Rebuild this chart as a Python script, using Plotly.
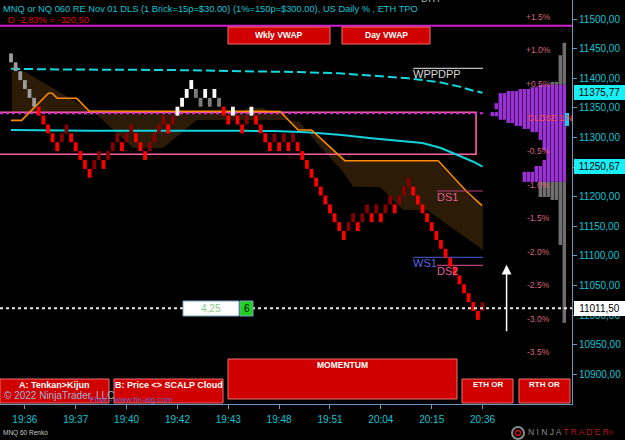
import plotly.graph_objects as go

FONT = "Liberation Sans, Arial, sans-serif"

# ---------------- data ----------------
brick_size = 15
brick_high = [11442, 11427, 11412, 11397, 11382, 11367, 11352, 11337, 11322, 11307, 11292,
              11307, 11322, 11307, 11292, 11277, 11262, 11247, 11262, 11277, 11262,
              11277, 11292, 11307, 11292, 11307, 11322, 11307, 11292, 11277, 11292,
              11307, 11322, 11337, 11322, 11337, 11352, 11367, 11382, 11397, 11382,
              11367, 11382, 11367, 11382, 11367, 11352, 11337, 11352, 11337, 11322,
              11337, 11352, 11337, 11322, 11307, 11292, 11307, 11292, 11307, 11292,
              11307, 11292, 11277, 11262, 11247, 11232, 11217, 11202, 11187, 11172,
              11157, 11142, 11157, 11172, 11157, 11172, 11187, 11172, 11187, 11172,
              11187, 11202, 11187, 11202, 11217, 11232, 11217, 11202, 11187, 11172,
              11157, 11142, 11127, 11112, 11097, 11082, 11067, 11052, 11037, 11022,
              11007, 11022]
brick_kind = list("GGGGGG" "RRRRR" "DD" "RRRRR" "DD" "R" "DDD" "R" "DD" "RRR" "DDDD" "R" "D"
                  "WWWW" "gg" "W" "g" "W" "g" "RR" "W" "RR" "D" "W" "RRRR" "D" "R" "D" "R" "D"
                  "RRRRRRRRRRR" "DD" "R" "DD" "R" "D" "R" "DD" "R" "DDD" "RRRRRRRRRRRRRRR" "D")

tick_idx = [3, 14, 25, 36, 47, 58, 69, 80, 91, 102]
tick_text = ["19:36", "19:37", "19:40", "19:42", "19:43", "19:48", "19:51", "20:04", "20:15", "20:36"]

price_ticks = [11500, 11450, 11400, 11350, 11300, 11250, 11200, 11150, 11100, 11050, 11000, 10950, 10900]
price_tick_text = ["11500,00", "11450,00", "11400,00", "11350,00", "11300,00", "11250,00", "11200,00",
                   "11150,00", "11100,00", "11050,00", "11000,00", "10950,00", "10900,00"]

wvwap_idx = [0, 10, 35, 52, 62, 71, 78, 86, 93, 97, 100, 102]
wvwap = [11416, 11415, 11414, 11412.5, 11410.5, 11408.5, 11404.5, 11400, 11393, 11386, 11379, 11375.77]

dvwap_idx = [0, 17, 17.3, 50, 57, 64, 71, 78, 82, 86, 89, 93, 96.5, 100, 102]
dvwap = [11312.7, 11312.7, 11311.5, 11311.3, 11310.8, 11308.8, 11304.5, 11298.6, 11295.8, 11293,
         11290.7, 11282.3, 11270.4, 11259.1, 11250.67]

kijun_idx = [0, 2.3, 8.1, 8.9, 10, 14.2, 16.9, 58.2, 62.1, 65, 72.2, 92.4, 98.6, 101.9]
kijun = [11329, 11329, 11374.7, 11374.7, 11366.2, 11366.2, 11344.8, 11344, 11312.7, 11312.7,
         11260.8, 11260.8, 11208.4, 11184.8]

cloud_a_idx = [0.2, 3.0, 17.1, 50.6, 51.0, 54.5, 56.0, 58.2, 62.1, 65.0, 72.2, 92.1, 99.3, 102.1]
cloud_a = [11411, 11411, 11346.5, 11343, 11350, 11350, 11343, 11342, 11314, 11314, 11260.3, 11260.3,
           11200, 11184.3]
cloud_b_idx = [0.2, 18.6, 26.4, 32.9, 37.0, 40.2, 59.3, 62.5, 65.0, 67.5, 71.5, 74.0, 79.8, 84.8, 90.0, 102.1]
cloud_b = [11341.4, 11338, 11282.3, 11282.3, 11309.3, 11329.6, 11329.6, 11326.2, 11301.4, 11279.1,
           11245.3, 11216.9, 11216.4, 11177.5, 11177.5, 11110]

zone_top, zone_bottom, zone_end = 11342.7, 11271.6, 100.6
session_line = 11488.9
or_line, or_line_end = 11341.0, 102.5
last_price = 11011.5
prior_close = 11332.0

pct_levels = [1.5, 1.0, 0.5, 0.0, -0.5, -1.0, -1.5, -2.0, -2.5, -3.0, -3.5]
pct_text = ["+1.5%", "+1.0%", "+0.5%", "CLOSE 1 N", "-0.5%", "-1.0%", "-1.5%", "-2.0%", "-2.5%", "-3.0%", "-3.5%"]

pivot_names = ["WPPDPP", "DS1", "WS1", "DS2"]
pivot_price = [11416.9, 11209.6, 11097.6, 11084.1]
pivot_start = [87.0, 92.1, 87.0, 92.1]
pivot_end = [102.1, 102.1, 102.1, 102.1]

tpo_edges = [11460, 11439, 11394, 11389, 11385, 11382, 11378.5, 11375, 11368, 11358, 11348, 11343,
             11336, 11330, 11324.5, 11319.5, 11314.5, 11309, 11296, 11279, 11262, 11252, 11242,
             11225, 11199.5, 11194.5, 11118.5, 10987]
tpo_count = [1, 2, 4, 7, 9, 12, 15, 17, 17, 18, 17, 19, 17, 15, 13, 11, 9, 7, 6, 5, 6, 8, 11, 7, 4, 2, 1]
va_high, va_low = 11389, 11225

axis_labels = [(11375.77, "11375,77", "#19f0f5"), (11250.67, "11250,67", "#19f0f5"), (11011.5, "11011,50", "#ffffff")]

# ---------------- layout geometry ----------------
PRW, PRH = 572, 404
XMIN, XMAX = -2.38, 121.35
YMIN, YMAX = 10849.8, 11532.3


def px(x):
    return x / PRW


def py(y):
    return 1 - y / PRH


fig = go.Figure()

# cloud
fig.add_trace(go.Scatter(x=cloud_a_idx + cloud_b_idx[::-1], y=cloud_a + cloud_b[::-1],
                         fill="toself", fillcolor="#2b1b07", mode="lines", line=dict(width=0),
                         hoverinfo="skip"))
# zone rectangle
fig.add_trace(go.Scatter(x=[XMIN, zone_end, zone_end, XMIN], y=[zone_top, zone_top, zone_bottom, zone_bottom],
                         mode="lines", line=dict(color="#ff5fa8", width=1.6), hoverinfo="skip"))
fig.add_trace(go.Scatter(x=[XMIN, or_line_end], y=[or_line, or_line], mode="lines",
                         line=dict(color="#d82ad8", width=2, dash="dot"), hoverinfo="skip"))
# session line
fig.add_trace(go.Scatter(x=[XMIN, XMAX], y=[session_line, session_line], mode="lines",
                         line=dict(color="#d21ed2", width=2), hoverinfo="skip"))
# day vwap
fig.add_trace(go.Scatter(x=dvwap_idx, y=dvwap, mode="lines", line=dict(color="#12d2da", width=2),
                         hoverinfo="skip"))
# kijun
fig.add_trace(go.Scatter(x=kijun_idx, y=kijun, mode="lines", line=dict(color="#ff8c00", width=1.6),
                         hoverinfo="skip"))
# weekly vwap
fig.add_trace(go.Scatter(x=wvwap_idx, y=wvwap, mode="lines",
                         line=dict(color="#12d8e0", width=2, dash="9px,4px"), hoverinfo="skip"))
# pivots
piv_line_col = ["#bdbdbd", "#b8407c", "#3a4ab0", "#b8407c"]
piv_text_col = ["#d8d8d8", "#e0609a", "#5566e0", "#e0609a"]
for n, p, s, e, lc, tc in zip(pivot_names, pivot_price, pivot_start, pivot_end, piv_line_col, piv_text_col):
    fig.add_trace(go.Scatter(x=[s, e], y=[p, p], mode="lines", line=dict(color=lc, width=1.2),
                             hoverinfo="skip"))
    fig.add_annotation(x=s, y=p, xref="x", yref="y", text=n, showarrow=False, xanchor="left",
                       yanchor="top", font=dict(color=tc, size=11, family=FONT), borderpad=0,
                       xshift=-1, yshift=1)

# bricks (drawn as thick vertical segments so they sit on top of the indicators)
kind_color = {"G": "#9c9c9c", "g": "#7c7c7c", "R": "#ff0000", "D": "#860000", "W": "#ffffff"}
for kk, col in kind_color.items():
    xs, ys = [], []
    for i, (h, k2) in enumerate(zip(brick_high, brick_kind)):
        if k2 == kk:
            xs += [i, i, None]
            ys += [h - brick_size, h, None]
    fig.add_trace(go.Scatter(x=xs, y=ys, mode="lines", line=dict(color=col, width=3.8),
                             hoverinfo="skip", connectgaps=False))

shapes = []
# TPO profile (columns drawn right to left)
UNIT = 0.865
PROFILE_RIGHT = 120.05
ncol = max(tpo_count)
for j in range(ncol):
    x1 = PROFILE_RIGHT - j * UNIT
    x0 = x1 - UNIT * 0.86
    run = None
    for i, c in enumerate(tpo_count):
        top, bot = tpo_edges[i], tpo_edges[i + 1]
        mid = (top + bot) / 2
        col = None
        if c > j:
            col = "#9a32d6" if va_low <= mid <= va_high else "#6f6f6f"
        if run and (col != run[2]):
            shapes.append(dict(type="rect", xref="x", yref="y", x0=x0, x1=x1, y0=run[1], y1=run[0],
                               fillcolor=run[2], line=dict(width=0), layer="above"))
            run = None
        if col and run is None:
            run = [top, bot, col]
        elif col:
            run[1] = bot
    if run:
        shapes.append(dict(type="rect", xref="x", yref="y", x0=x0, x1=x1, y0=run[1], y1=run[0],
                           fillcolor=run[2], line=dict(width=0), layer="above"))

# last price dotted line
shapes.append(dict(type="line", xref="x domain", yref="y", x0=0, x1=1, y0=last_price, y1=last_price,
                   line=dict(color="#e8e8e8", width=2, dash="dot"), layer="above"))

# buttons
buttons = [("Wkly VWAP", 228, 27, 330, 44, 35.5, 8.5),
           ("Day VWAP", 342, 27, 430, 44, 35.5, 8.5),
           ("A: Tenkan&gt;Kijun", 0, 379, 109, 403, 384.5, 9),
           ("B: Price &lt;&gt; SCALP Cloud", 114, 379, 223, 403, 384.5, 9),
           ("MOMENTUM", 228, 359, 457, 399, 364.5, 8.5),
           ("ETH OR", 462, 379, 513, 403, 384.5, 8),
           ("RTH OR", 519, 379, 570, 403, 384.5, 8)]
for lab, x0, y0, x1, y1, ty, fs in buttons:
    shapes.append(dict(type="rect", xref="paper", yref="paper", x0=px(x0), x1=px(x1), y0=py(y1), y1=py(y0),
                       fillcolor="#d00000", line=dict(color="#f07070", width=1), layer="above"))
    fig.add_annotation(x=px((x0 + x1) / 2), y=py(ty), xref="paper", yref="paper", text="<b>%s</b>" % lab,
                       showarrow=False, font=dict(color="#ffffff", size=fs, family=FONT),
                       xanchor="center", yanchor="middle")

# 4,25 / 6 box
shapes.append(dict(type="rect", xref="paper", yref="paper", x0=px(183), x1=px(239), y0=py(316), y1=py(301),
                   fillcolor="#ffffff", line=dict(color="#7aa0c0", width=1), layer="above"))
shapes.append(dict(type="rect", xref="paper", yref="paper", x0=px(240), x1=px(253), y0=py(316), y1=py(301),
                   fillcolor="#1ed21e", line=dict(color="#7aa0c0", width=1), layer="above"))
fig.add_annotation(x=px(211), y=py(308.5), xref="paper", yref="paper", text="4,25", showarrow=False,
                   xanchor="center", yanchor="middle", font=dict(color="#88c888", size=10, family=FONT))
fig.add_annotation(x=px(246.5), y=py(308.5), xref="paper", yref="paper", text="6", showarrow=False,
                   xanchor="center", yanchor="middle", font=dict(color="#000000", size=10, family=FONT))

# small close marker
shapes.append(dict(type="rect", xref="paper", yref="paper", x0=px(565), x1=px(569), y0=py(126), y1=py(113),
                   fillcolor="#19c8f0", line=dict(width=0), layer="above"))

# logo circle
shapes.append(dict(type="circle", xref="paper", yref="paper", x0=px(512), x1=px(524), y0=py(439), y1=py(427),
                   line=dict(color="#8a8a8a", width=2), fillcolor="#000000", layer="above"))
shapes.append(dict(type="circle", xref="paper", yref="paper", x0=px(515.5), x1=px(520.5), y0=py(435.5), y1=py(430.5),
                   line=dict(color="#c01010", width=1.5), fillcolor="#000000", layer="above"))

# percent labels
for p, t in zip(pct_levels, pct_text):
    lvl = prior_close * (1 + p / 100)
    if p == 0:
        fig.add_annotation(x=111.4, y=lvl, xref="x", yref="y", text=t, showarrow=False, xanchor="left",
                           yanchor="middle", font=dict(color="#ff4a4a", size=8.5, family=FONT), yshift=1)
    else:
        fig.add_annotation(x=114.0, y=lvl, xref="x", yref="y", text=t, showarrow=False, xanchor="center",
                           yanchor="middle", font=dict(color="#d8647e", size=8.5, family=FONT), yshift=1)

# axis price labels with pointer
for val, lab, bg in axis_labels:
    fig.add_annotation(x=px(574), y=val, xref="paper", yref="y", text=lab, showarrow=False, xanchor="left",
                       yanchor="middle", bgcolor=bg, bordercolor=bg, borderwidth=1, borderpad=0,
                       width=49, height=13, font=dict(color="#000000", size=10, family=FONT))
fig.add_trace(go.Scatter(x=[121.62] * len(axis_labels), y=[a[0] for a in axis_labels], mode="markers",
                         marker=dict(symbol="triangle-left", size=11, color=[a[2] for a in axis_labels],
                                     line=dict(width=0)),
                         cliponaxis=False, hoverinfo="skip"))

# arrow
fig.add_annotation(x=107.2, y=11085, xref="x", yref="y", ax=0, ay=68, text="", showarrow=True,
                   arrowhead=2, arrowsize=1.3, arrowwidth=1.5, arrowcolor="#ffffff")


# texts
def txt(x, y, s, color, size, xanchor="left"):
    fig.add_annotation(x=px(x), y=py(y), xref="paper", yref="paper", text=s, showarrow=False,
                       font=dict(color=color, size=size, family=FONT), xanchor=xanchor, yanchor="middle",
                       borderpad=0)


txt(2, 9, "MNQ or NQ 060 RE Nov 01 DLS (1 Brick=15p=$30.00) (1%=150p=$300.00), US Daily % , ETH TPO",
    "#10c4d4", 9.3)
txt(7, 20, "D -2,83% = -320,50", "#e00000", 9.3)
txt(420, -1, "DRT", "#b0b0b0", 10)
txt(3, 395, "© 2022 NinjaTrader, LLC", "#9fb6d4", 10)
txt(89, 399.5, "Final - www.fin-alg.com", "#6a62c8", 8)
txt(2, 433, "MNQ 60 Renko", "#c8c8c8", 6.5)
txt(527, 432, "<span style='color:#8c8c8c'>N I N J A </span><span style='color:#b81818'>T R A D E R</span>"
    "<span style='color:#b81818;font-size:6px'>®</span>", "#8c8c8c", 8.5)

fig.update_layout(
    width=625, height=440, margin=dict(l=0, r=53, t=0, b=36),
    paper_bgcolor="#000000", plot_bgcolor="#000000", showlegend=False,
    shapes=shapes,
    xaxis=dict(range=[XMIN, XMAX], showgrid=False, zeroline=False, tickvals=tick_idx, ticktext=tick_text,
               ticks="outside", ticklen=4, tickcolor="#6a9ac0", showline=True, linecolor="#6a9ac0",
               linewidth=1, tickfont=dict(color="#10c4d4", size=10, family=FONT), fixedrange=True,
               ticklabelstandoff=2),
    yaxis=dict(range=[YMIN, YMAX], side="right", showgrid=False, zeroline=False, tickvals=price_ticks,
               ticktext=price_tick_text, ticks="outside", ticklen=4, tickcolor="#6a9ac0", showline=True,
               linecolor="#6a9ac0", linewidth=1, tickfont=dict(color="#10c4d4", size=10, family=FONT),
               fixedrange=True),
)

fig.write_html("out.html")
